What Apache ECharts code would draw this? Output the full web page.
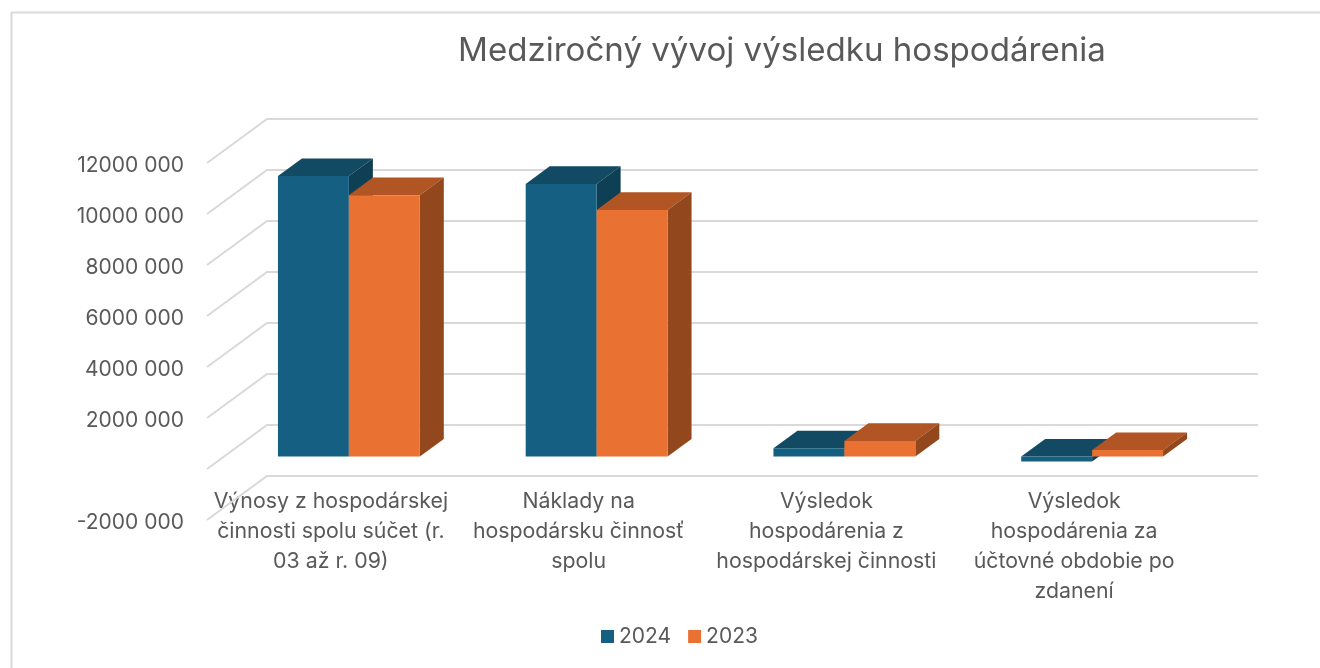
<!DOCTYPE html>
<html>
<head>
<meta charset="utf-8">
<title>Medziročný vývoj výsledku hospodárenia</title>
<script src="https://cdn.jsdelivr.net/npm/echarts@6/dist/echarts.min.js"></script>
<style>
html, body { margin: 0; padding: 0; background: #fff; }
#charts { width: 1320px; height: 668px; }
</style>
</head>
<body>
<div id="charts"></div>
<script>
var titleText = 'Medziročný vývoj výsledku hospodárenia';
var categories = [
    'Výnosy z hospodárskej\nčinnosti spolu súčet (r.\n03 až r. 09)',
    'Náklady na\nhospodársku činnosť\nspolu',
    'Výsledok\nhospodárenia z\nhospodárskej činnosti',
    'Výsledok\nhospodárenia za\núčtovné obdobie po\nzdanení'
];
var values2024 = [11000000, 10690000, 320000, -200000];
var values2023 = [10250000, 9670000, 610000, 255000];
var yTicks = [-2000000, 0, 2000000, 4000000, 6000000, 8000000, 10000000, 12000000];

var fontName = 'Inter, sans-serif';
var textColor = '#595959';
var gridColor = '#d9d9d9';
// shift of the back wall against the front plane
var wallDx = 60, wallDy = -44;
// the bars stand 0.3 into the floor and are 0.4 deep
var barStart = 0.3, barDepth = 0.4, barLift = -12.5;
var barShare = 71 / 248;

function tickLabel(val) {
    if (val === 0) return '';
    var sign = val < 0 ? '-' : '';
    var s = String(Math.abs(val));
    return sign + s.slice(0, -3) + ' ' + s.slice(-3);
}

function renderGridLine(params, api) {
    var y = api.coord([0, api.value(1)])[1];
    var box = params.coordSys;
    return {
        type: 'polyline',
        silent: true,
        shape: {
            points: [
                [box.x, y],
                [box.x + wallDx, y + wallDy],
                [box.x + box.width + wallDx, y + wallDy]
            ]
        },
        style: { stroke: gridColor, lineWidth: 2, fill: null }
    };
}

function poly(points, color) {
    return { type: 'polygon', shape: { points: points }, style: { fill: color, stroke: null } };
}

function makeBarRender(slot, colors) {
    return function(params, api) {
        var i = api.value(0);
        var v = api.value(1);
        var band = api.size([1, 0])[0];
        var w = band * barShare;
        var x0 = api.coord([i, 0])[0] + wallDx * barStart + (slot - 1) * w;
        var x1 = x0 + w;
        var top = api.coord([i, Math.max(v, 0)])[1] + barLift;
        var bottom = api.coord([i, Math.min(v, 0)])[1] + barLift;
        var dx = wallDx * barDepth;
        var dy = wallDy * barDepth;
        return {
            type: 'group',
            children: [
                poly([[x0, top], [x0 + dx, top + dy], [x1 + dx, top + dy], [x1, top]], colors[1]),
                poly([[x1, top], [x1 + dx, top + dy], [x1 + dx, bottom + dy], [x1, bottom]], colors[2]),
                poly([[x0, top], [x1, top], [x1, bottom], [x0, bottom]], colors[0])
            ]
        };
    };
}

function toRows(list) {
    return list.map(function(val, i) {
        return [i, val];
    });
}

var myChart = echarts.init(document.getElementById('charts'));

var option = {
    animation: false,
    backgroundColor: '#fff',
    textStyle: { fontFamily: fontName },
    title: {
        text: titleText,
        left: 453,
        top: 30,
        textStyle: { fontFamily: fontName, fontSize: 33.1, fontWeight: 'normal', color: textColor }
    },
    legend: {
        data: ['2024', '2023'],
        left: 596,
        top: 621,
        icon: 'rect',
        itemWidth: 13,
        itemHeight: 13,
        itemGap: 17,
        textStyle: { fontFamily: fontName, fontSize: 21, color: textColor }
    },
    grid: { left: 207, top: 163, width: 991, height: 357 },
    xAxis: {
        type: 'category',
        data: categories,
        axisLine: { show: false, onZero: true },
        axisTick: { show: false },
        axisLabel: {
            interval: 0,
            margin: -33.5,
            fontFamily: fontName,
            fontSize: 21.3,
            lineHeight: 30,
            color: textColor,
            hideOverlap: false
        }
    },
    yAxis: {
        type: 'value',
        min: -2000000,
        max: 12000000,
        interval: 2000000,
        axisLine: { show: false },
        axisTick: { show: false },
        splitLine: { show: false },
        axisLabel: {
            margin: 23,
            fontFamily: fontName,
            fontSize: 21,
            color: textColor,
            verticalAlign: 'top',
            lineHeight: 6,
            formatter: tickLabel
        }
    },
    graphic: [
        { type: 'line', shape: { x1: 11.5, y1: 12, x2: 11.5, y2: 668 }, style: { stroke: gridColor, lineWidth: 2 } },
        { type: 'line', shape: { x1: 11, y1: 12.5, x2: 1320, y2: 12.5 }, style: { stroke: gridColor, lineWidth: 2 } }
    ],
    series: [{
        type: 'custom',
        name: 'grid',
        data: yTicks.map(function(val) { return [0, val]; }),
        renderItem: renderGridLine,
        clip: false,
        silent: true,
        z: 1
    }, {
        type: 'custom',
        name: '2024',
        data: toRows(values2024),
        renderItem: makeBarRender(0, ['#156082', '#124A63', '#0E3F54']),
        itemStyle: { color: '#156082' },
        clip: false,
        z: 2
    }, {
        type: 'custom',
        name: '2023',
        data: toRows(values2023),
        renderItem: makeBarRender(1, ['#E97132', '#B25524', '#93471D']),
        itemStyle: { color: '#E97132' },
        clip: false,
        z: 3
    }]
};
myChart.setOption(option);
</script>
</body>
</html>
